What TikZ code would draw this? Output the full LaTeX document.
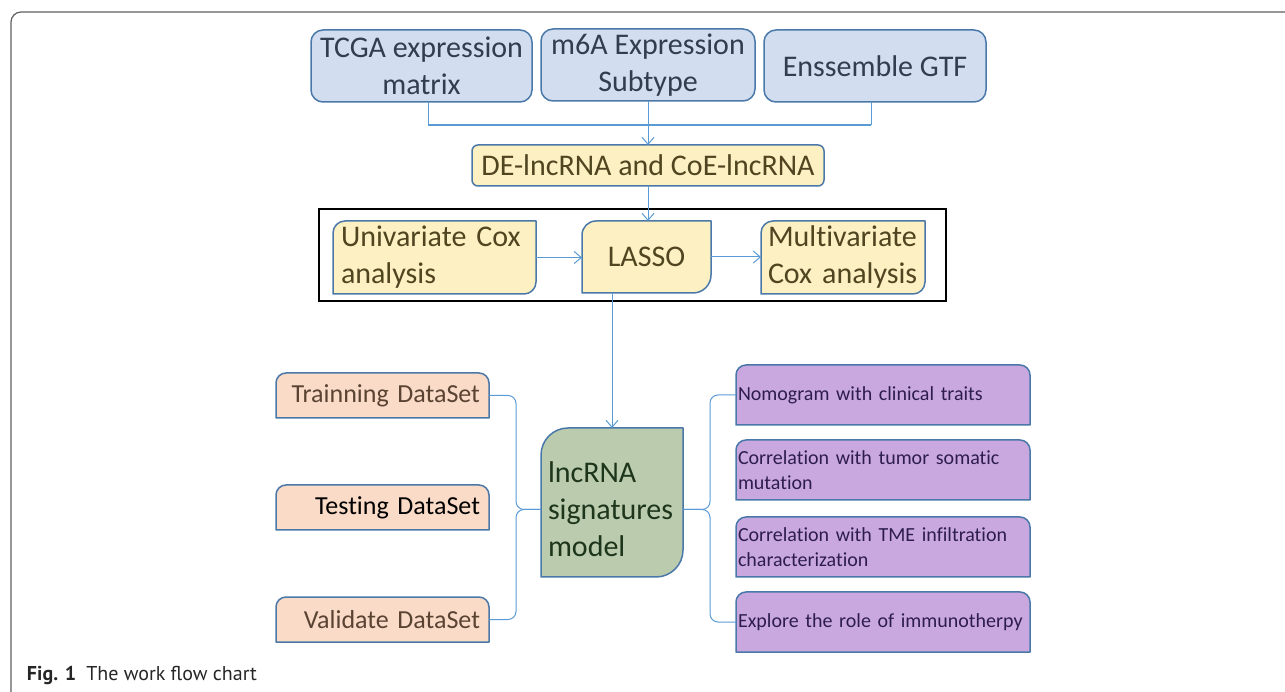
\documentclass[tikz,border=0pt]{standalone}
\usepackage{fontspec}
\setmainfont{Carlito}[Ligatures=NoCommon]
\newfontfamily\capfont{PT Sans}
\usetikzlibrary{arrows.meta, backgrounds}

\definecolor{linkblue}{HTML}{5B9BD5}
\definecolor{edgeblue}{HTML}{4A78A8}
\definecolor{topfill}{HTML}{D2DEF0}
\definecolor{toptext}{HTML}{323E4F}
\definecolor{yellowfill}{HTML}{FDF0C2}
\definecolor{olivetext}{HTML}{4F4520}
\definecolor{peachfill}{HTML}{F9DBC7}
\definecolor{browntext}{HTML}{5A4333}
\definecolor{sagefill}{HTML}{BACBAE}
\definecolor{greentext}{HTML}{1D351B}
\definecolor{purplefill}{HTML}{C9A8E0}
\definecolor{purpletext}{HTML}{2E1D4C}
\definecolor{framegray}{HTML}{5F5F5F}

% box behind a node, radii nw / ne / se / sw
\newcommand{\cornerbox}[6]{%
  \begin{pgfonlayer}{background}
    \path[#1] ([yshift=-#3]#2.north west) arc[start angle=180, end angle=90, radius=#3]
      -- ([xshift=-#4]#2.north east) arc[start angle=90, end angle=0, radius=#4]
      -- ([yshift=#5]#2.south east) arc[start angle=0, end angle=-90, radius=#5]
      -- ([xshift=#6]#2.south west) arc[start angle=270, end angle=180, radius=#6]
      -- cycle;
  \end{pgfonlayer}}

\begin{document}
\begin{tikzpicture}[x=1pt, y=1pt, outer sep=0pt,
    link/.style={draw=linkblue, line width=1pt},
    flow/.style={link, -{Straight Barb[length=7pt, width=12pt]}},
    boxfill/.style={draw=edgeblue, line width=1.5pt, fill=#1},
    topbox/.style={boxfill=topfill, rounded corners=12pt, text=toptext, font=\fontsize{30}{37}\selectfont, align=center, inner sep=0pt},
    coxbox/.style={text=olivetext, font=\fontsize{30}{37}\selectfont, inner sep=0pt},
    setbox/.style={minimum width=213pt, minimum height=45pt, text width=195pt, align=right, inner xsep=9pt, inner ysep=0pt, font=\fontsize{26}{31}\selectfont},
    traitbox/.style={minimum width=294pt, minimum height=60pt, text width=290pt, align=left, inner xsep=2pt, inner ysep=0pt, text=purpletext, font=\fontsize{20}{25}\selectfont}
  ]
  \useasboundingbox (0,0) rectangle (1285,691);
  \draw[framegray, line width=1.2pt] (11,-2) -- (11,669) arc[start angle=180, end angle=90, radius=10] -- (1290,679);

  % inputs
  \node[topbox, minimum width=221pt, minimum height=72pt] (tcga) at (421.5,625) {TCGA expression\\matrix};
  \node[topbox, minimum width=214pt, minimum height=72pt] (msub) at (648,626) {m6A Expression\\Subtype};
  \node[topbox, minimum width=222pt, minimum height=72pt] (gtf) at (875,625) {Enssemble GTF};
  \coordinate (jl) at (428,566);
  \coordinate (jr) at (871,566);

  \node[coxbox, boxfill=yellowfill, rounded corners=6pt, minimum width=352pt, minimum height=41pt] (de) at (648,525.5) {DE-lncRNA and CoE-lncRNA};

  % cox steps
  \draw[line width=2.5pt] (319,390) rectangle (946,482);
  \node[coxbox, minimum width=203pt, minimum height=73pt, text width=187pt, inner xsep=8pt, align=left] (univ) at (434.5,433.5) {Univariate Cox\\analysis};
  \node[coxbox, minimum width=129pt, minimum height=72pt] (lasso) at (646.5,434) {LASSO};
  \node[coxbox, minimum width=164pt, minimum height=73pt, text width=150pt, inner xsep=7pt, align=left] (multi) at (843,433.5) {Multivariate\\Cox analysis};
  \cornerbox{boxfill=yellowfill}{univ}{12pt}{0.1pt}{12pt}{0.1pt}
  \cornerbox{boxfill=yellowfill}{lasso}{14pt}{0.1pt}{18pt}{0.1pt}
  \cornerbox{boxfill=yellowfill}{multi}{12pt}{0.1pt}{12pt}{0.1pt}

  % model
  \node[minimum width=142pt, minimum height=149pt, text width=128pt, inner xsep=7pt, inner ysep=0pt, align=left, text=greentext, font=\fontsize{30}{37}\selectfont, text height=34pt] (model) at (612,188.5) {lncRNA\\signatures\\model};
  \cornerbox{boxfill=sagefill}{model}{27pt}{0.1pt}{27pt}{0.1pt}

  \foreach \n/\y/\c/\t in {train/295.5/browntext/Trainning DataSet, test/183.5/black/Testing DataSet, valid/71.5/browntext/Validate DataSet} {
    \node[setbox, text=\c] (\n) at (382.5,\y) {\t};
    \cornerbox{boxfill=peachfill}{\n}{10pt}{10pt}{0.1pt}{0.1pt}
  }

  \foreach \n/\y/\t in {nomo/296/{Nomogram with clinical traits}, tumor/221/{Correlation with tumor somatic\\mutation}, tme/144/{Correlation with TME infiltration\\characterization}, immu/69/{Explore the role of immunotherpy}} {
    \node[traitbox] (\n) at (883,\y) {\t};
    \cornerbox{boxfill=purplefill}{\n}{10pt}{10pt}{0.1pt}{0.1pt}
  }

  % connectors
  \draw[link] (tcga.south -| jl) -- (jl);
  \draw[link] (gtf.south -| jr) -- (jr);
  \draw[link, line width=2pt] (jl) -- (jr);
  \draw[flow] (msub.south) -- (de.north);
  \draw[flow] (de.south) -- (de.south |- lasso.north);
  \draw[flow] (univ.east) -- (univ.east -| lasso.west);
  \draw[flow] (lasso.east) -- (lasso.east -| multi.west);
  \draw[flow] (lasso.south -| model.north) -- (model.north);

  \coordinate (tipL) at ([yshift=-7pt]model.west);
  \coordinate (tipR) at ([yshift=-7pt]model.east);
  \foreach \s in {train, valid}
    \draw[link, rounded corners=8pt] (\s.east) -- ++(27,0) |- (tipL);
  \foreach \s in {nomo, immu}
    \draw[link, rounded corners=8pt] (\s.west) -- ++(-26,0) |- (tipR);

  \node[anchor=base west, inner sep=0pt, text=black!85, font=\capfont\fontsize{20}{24}\selectfont] (caption) at (27,11) {\textbf{Fig. 1}\hspace{10pt}The work flow chart};
\end{tikzpicture}
\end{document}
